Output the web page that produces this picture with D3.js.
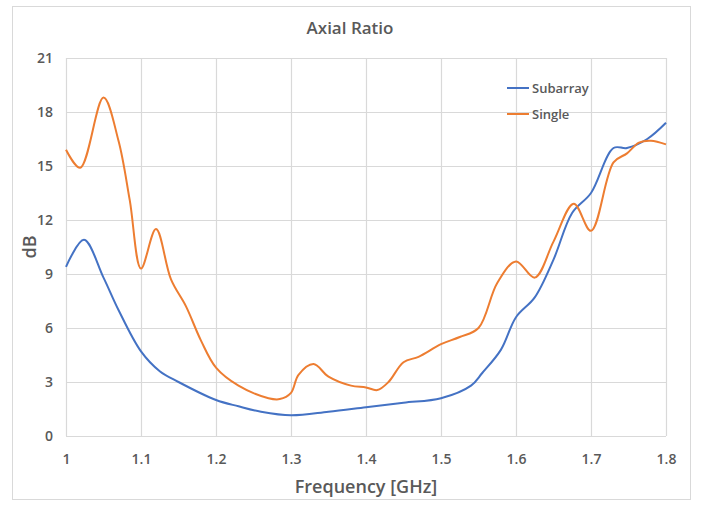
<!DOCTYPE html>
<html>
<head>
<meta charset="utf-8">
<script src="https://cdn.jsdelivr.net/npm/d3@7"></script>
<style>
  body { margin: 0; background: #fff; }
  text { font-family: "Open Sans", "Liberation Sans", sans-serif; fill: #595959; }
</style>
</head>
<body>
<svg id="chart" width="702" height="506"></svg>
<script>
// values
var freq_sub = [1.0, 1.024, 1.05, 1.07, 1.1, 1.125, 1.15, 1.2, 1.23, 1.26, 1.3, 1.35, 1.4, 1.45, 1.5, 1.54, 1.555, 1.58, 1.6, 1.625, 1.65, 1.675, 1.7, 1.73, 1.748, 1.775, 1.8];
var ar_sub   = [9.4, 10.9, 8.8, 7.0, 4.7, 3.6, 3.0, 2.0, 1.65, 1.35, 1.15, 1.35, 1.6, 1.85, 2.1, 2.8, 3.5, 4.8, 6.6, 7.7, 9.8, 12.4, 13.5, 16.0, 16.0, 16.5, 17.4];

var freq_single = [1.0, 1.019, 1.05, 1.07, 1.085, 1.1, 1.12, 1.14, 1.16, 1.18, 1.2, 1.23, 1.27, 1.285, 1.3, 1.31, 1.33, 1.35, 1.38, 1.4, 1.415, 1.43, 1.45, 1.47, 1.5, 1.525, 1.55, 1.575, 1.6, 1.625, 1.65, 1.677, 1.7, 1.73, 1.748, 1.764, 1.78, 1.8];
var ar_single   = [15.9, 14.9, 18.8, 16.4, 13.1, 9.3, 11.5, 8.7, 7.2, 5.3, 3.8, 2.8, 2.1, 2.05, 2.4, 3.4, 4.0, 3.3, 2.8, 2.7, 2.55, 3.0, 4.1, 4.4, 5.1, 5.5, 6.0, 8.5, 9.7, 8.8, 10.8, 12.9, 11.4, 15.2, 15.7, 16.3, 16.4, 16.2];

var xTicks = [1, 1.1, 1.2, 1.3, 1.4, 1.5, 1.6, 1.7, 1.8];
var yTicks = [0, 3, 6, 9, 12, 15, 18, 21];
var seriesNames = ["Subarray", "Single"];
var seriesColors = ["#4472C4", "#ED7D31"];

var svg = d3.select("#chart");
var margin = {left: 66, right: 36, top: 58, bottom: 70};
var W = 702, H = 506;

// outer frame
svg.append("rect")
  .attr("x", 12.5).attr("y", 6.5)
  .attr("width", 678).attr("height", 493)
  .attr("fill", "#fff").attr("stroke", "#d9d9d9");

var x = d3.scaleLinear().domain([1, 1.8]).range([margin.left, W - margin.right]);
var y = d3.scaleLinear().domain([0, 21]).range([H - margin.bottom, margin.top]);

// gridlines
svg.append("g").selectAll("line.h")
  .data(yTicks).enter().append("line")
  .attr("x1", x(1)).attr("x2", x(1.8))
  .attr("y1", d => y(d) + 0.5).attr("y2", d => y(d) + 0.5)
  .attr("stroke", "#d9d9d9").attr("stroke-width", 1.2);
svg.append("g").selectAll("line.v")
  .data(xTicks).enter().append("line")
  .attr("x1", d => x(d) + 0.5).attr("x2", d => x(d) + 0.5)
  .attr("y1", y(0)).attr("y2", y(21))
  .attr("stroke", "#d9d9d9").attr("stroke-width", 1.2);

// axes (labels only)
var xAxis = svg.append("g")
  .attr("transform", "translate(0," + y(0) + ")")
  .call(d3.axisBottom(x).tickValues(xTicks).tickSize(0).tickPadding(18).tickFormat(d3.format("")));
var yAxis = svg.append("g")
  .attr("transform", "translate(" + x(1) + ",0)")
  .call(d3.axisLeft(y).tickValues(yTicks).tickSize(0).tickPadding(13));
xAxis.select(".domain").remove();
yAxis.select(".domain").remove();
svg.selectAll(".tick text")
  .attr("font-size", 14).attr("font-weight", 600)
  .style("font-family", "'Open Sans', sans-serif").attr("fill", "#595959");

// lines
var line = d3.line()
  .x(d => x(d[0])).y(d => y(d[1]))
  .curve(d3.curveCatmullRom.alpha(0.5));

var series = [
  d3.zip(freq_sub, ar_sub),
  d3.zip(freq_single, ar_single)
];
svg.append("g").selectAll("path")
  .data(series).enter().append("path")
  .attr("d", line)
  .attr("fill", "none")
  .attr("stroke", (d, i) => seriesColors[i])
  .attr("stroke-width", 2);

// title
svg.append("text")
  .attr("x", 350).attr("y", 34)
  .attr("text-anchor", "middle")
  .attr("font-size", 17).attr("font-weight", 600)
  .text("Axial Ratio");

svg.append("text")
  .attr("x", 366).attr("y", 493)
  .attr("text-anchor", "middle")
  .attr("font-size", 18).attr("font-weight", 600)
  .text("Frequency [GHz]");

svg.append("text")
  .attr("transform", "translate(36," + y(10.5) + ") rotate(-90)")
  .attr("text-anchor", "middle")
  .attr("font-size", 18).attr("font-weight", 600)
  .text("dB");

// legend
var legend = svg.append("g").attr("transform", "translate(507,88)");
var items = legend.selectAll("g").data(seriesNames).enter().append("g")
  .attr("transform", (d, i) => "translate(0," + i * 26 + ")");
items.append("line")
  .attr("x1", 0).attr("x2", 22).attr("y1", 0).attr("y2", 0)
  .attr("stroke", (d, i) => seriesColors[i]).attr("stroke-width", 2);
items.append("text")
  .attr("x", 25).attr("y", 5)
  .attr("font-size", 13).attr("font-weight", 600)
  .text(d => d);
</script>
</body>
</html>
